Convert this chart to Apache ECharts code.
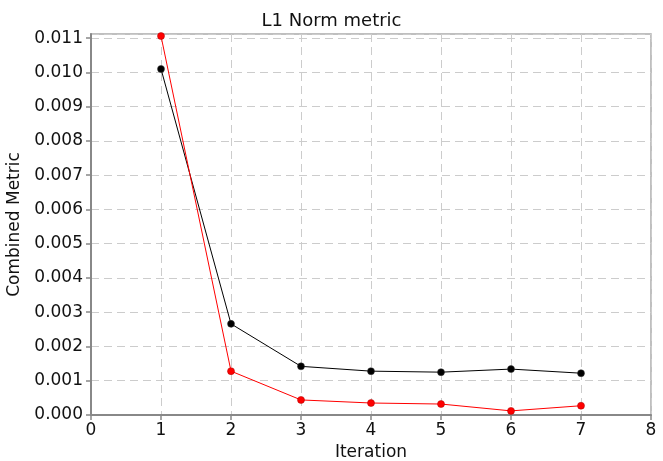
<!DOCTYPE html>
<html>
<head>
<meta charset="utf-8">
<script src="https://cdn.jsdelivr.net/npm/echarts@6/dist/echarts.min.js"></script>
<style>html,body{margin:0;padding:0;background:#fff}#c{width:663px;height:461px}</style>
</head>
<body>
<div id="c"></div>
<script>
var iterations = [1, 2, 3, 4, 5, 6, 7];
var blackValues = [0.0101, 0.00266, 0.00142, 0.00128, 0.00125, 0.00134, 0.00122];
var redValues = [0.01106, 0.00128, 0.00044, 0.00035, 0.00032, 0.00012, 0.00027];
var titleText = 'L1 Norm metric';
var xName = 'Iteration';
var yName = 'Combined Metric';

function pairs(xs, ys) { return xs.map(function (x, i) { return [x, ys[i]]; }); }

var FONT = 'DejaVu Sans';
var chart = echarts.init(document.getElementById('c'), null, {renderer: 'canvas'});
chart.setOption({
  animation: false,
  backgroundColor: '#fff',
  title: {
    text: titleText, left: 'center', top: 7,
    textStyle: {fontFamily: FONT, fontSize: 18, fontWeight: 'normal', color: '#111'}
  },
  grid: {left: 91, right: 12, top: 34, bottom: 46, show: true, borderColor: '#aaa', borderWidth: 1.5,
    backgroundColor: 'transparent', containLabel: false, outerBoundsMode: 'none'},
  xAxis: {
    type: 'value', min: 0, max: 8, interval: 1,
    name: xName, nameLocation: 'middle', nameGap: 29,
    nameTextStyle: {fontFamily: FONT, fontSize: 17, color: '#111'},
    axisLine: {show: true, onZero: false, lineStyle: {color: '#888', width: 2}},
    axisTick: {show: true, length: 5, lineStyle: {color: '#888', width: 1.5}},
    axisLabel: {fontFamily: FONT, fontSize: 17, color: '#111', margin: 7},
    splitLine: {show: true, lineStyle: {color: '#ccc', type: [8, 5], width: 1}}
  },
  yAxis: {
    type: 'value', min: 0, max: 0.01112, interval: 0.001,
    name: yName, nameLocation: 'middle', nameGap: 59,
    nameTextStyle: {fontFamily: FONT, fontSize: 17, color: '#111'},
    axisLine: {show: true, onZero: false, lineStyle: {color: '#888', width: 2}},
    axisTick: {show: true, length: 5, lineStyle: {color: '#888', width: 1.5}},
    axisLabel: {fontFamily: FONT, fontSize: 17, color: '#111', margin: 8, showMaxLabel: false,
      formatter: function (v) { return v.toFixed(3); }},
    splitLine: {show: true, lineStyle: {color: '#ccc', type: [8, 5], width: 1}}
  },
  series: [
    {
      type: 'line', data: pairs(iterations, blackValues),
      symbol: 'circle', symbolSize: 7,
      lineStyle: {color: '#000', width: 1},
      itemStyle: {color: '#000', borderColor: '#333', borderWidth: 0.5}
    },
    {
      type: 'line', data: pairs(iterations, redValues),
      symbol: 'circle', symbolSize: 7,
      lineStyle: {color: '#f00', width: 1},
      itemStyle: {color: '#f00', borderColor: '#a00', borderWidth: 0.5}
    }
  ]
});
</script>
</body>
</html>
